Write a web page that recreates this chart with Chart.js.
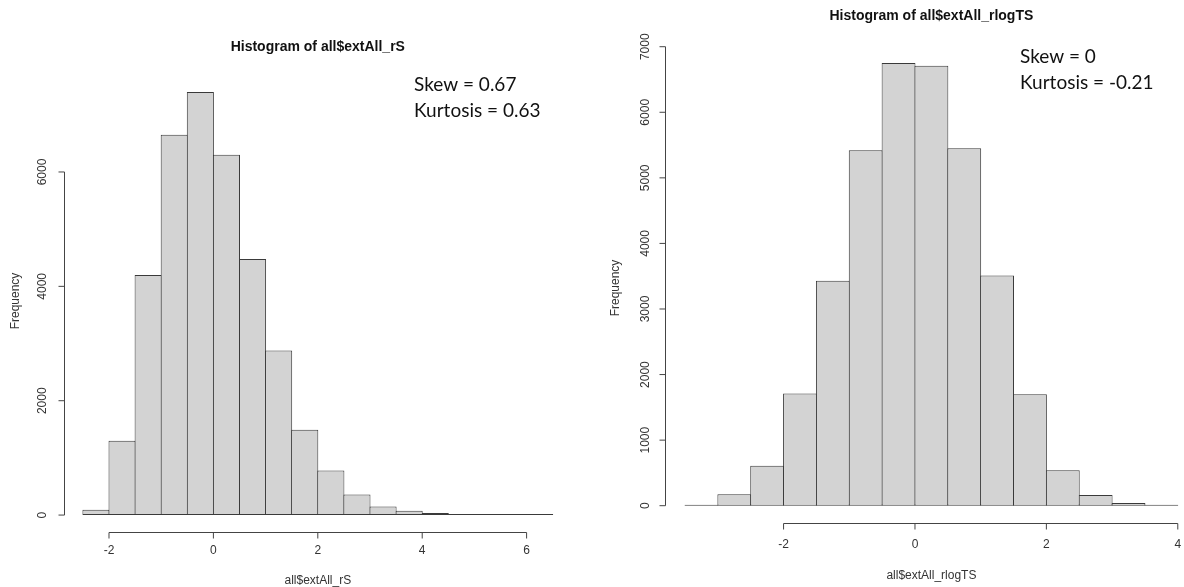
<!DOCTYPE html>
<html>
<head>
<meta charset="utf-8">
<script src="https://cdn.jsdelivr.net/npm/chart.js@4.4.1/dist/chart.umd.min.js"></script>
<style>
    html, body { margin: 0; padding: 0; background: #fff; }
    #wrap { position: relative; width: 1184px; height: 587px; overflow: hidden; }
    canvas { position: absolute; top: 0; }
    #leftChart { left: 0; }
    #rightChart { left: 600px; }
</style>
</head>
<body>
<div id="wrap">
    <canvas id="leftChart" width="600" height="587"></canvas>
    <canvas id="rightChart" width="620" height="587"></canvas>
</div>
<script>
// left histogram: all$extAll_rS (bin width 0.5, from -2.5 to 6.5)
const leftBins = [-2.25, -1.75, -1.25, -0.75, -0.25, 0.25, 0.75, 1.25, 1.75, 2.25, 2.75, 3.25, 3.75, 4.25, 4.75, 5.25, 5.75, 6.25];
const leftCounts = [95, 1300, 4200, 6650, 7400, 6300, 4480, 2880, 1490, 780, 360, 150, 75, 35, 15, 10, 2, 1];
const leftXTicks = [-2, 0, 2, 4, 6];
const leftYTicks = [0, 2000, 4000, 6000];

// right histogram: all$extAll_rlogTS (bin width 0.5, from -3.5 to 4)
const rightBins = [-3.25, -2.75, -2.25, -1.75, -1.25, -0.75, -0.25, 0.25, 0.75, 1.25, 1.75, 2.25, 2.75, 3.25, 3.75];
const rightCounts = [15, 175, 610, 1710, 3430, 5420, 6750, 6710, 5450, 3510, 1700, 540, 165, 40, 10];
const rightXTicks = [-2, 0, 2, 4];
const rightYTicks = [0, 1000, 2000, 3000, 4000, 5000, 6000, 7000];

const RFONT = 'Liberation Sans, Arial, sans-serif';

const drawText = (ctx, str, x, y, o) => {
    ctx.save();
    ctx.translate(x, y);
    if (o.rot) ctx.rotate(o.rot);
    ctx.font = o.font;
    ctx.fillStyle = o.color || '#333';
    ctx.textAlign = o.align || 'center';
    ctx.textBaseline = o.baseline || 'middle';
    ctx.fillText(str, 0, 0);
    ctx.restore();
};

// R style axes, titles and the skew / kurtosis note
const rAxes = {
    id: 'rAxes',
    afterDraw(chart, args, opts) {
        const ctx = chart.ctx;
        const area = chart.chartArea;
        const xs = chart.scales.x;
        const ys = chart.scales.y;
        ctx.save();
        ctx.strokeStyle = '#444';
        ctx.lineWidth = 1;

        const by = Math.round(area.bottom) + 0.5;
        const xp = opts.xTicks.map(v => xs.getPixelForValue(v));
        ctx.beginPath();
        ctx.moveTo(xp[0], by);
        ctx.lineTo(xp[xp.length - 1], by);
        xp.forEach(px => { ctx.moveTo(px, by); ctx.lineTo(px, by + 6); });
        ctx.stroke();
        opts.xTicks.forEach((v, i) => {
            drawText(ctx, String(v), xp[i], by + opts.xLabelGap, { font: '12px ' + RFONT });
        });

        const bx = Math.round(area.left) + 0.5;
        const yp = opts.yTicks.map(v => ys.getPixelForValue(v));
        ctx.beginPath();
        ctx.moveTo(bx, yp[0]);
        ctx.lineTo(bx, yp[yp.length - 1]);
        yp.forEach(py => { ctx.moveTo(bx, py); ctx.lineTo(bx - 6, py); });
        ctx.stroke();
        opts.yTicks.forEach((v, i) => {
            drawText(ctx, String(v), bx - opts.yLabelGap, yp[i], { font: '12px ' + RFONT, rot: -Math.PI / 2 });
        });

        const cx = (area.left + area.right) / 2;
        drawText(ctx, opts.title, cx, opts.titleY, { font: 'bold 14px ' + RFONT, color: '#111' });
        drawText(ctx, opts.xTitle, cx, opts.xTitleY, { font: '12px ' + RFONT });
        drawText(ctx, 'Frequency', opts.yTitleX, opts.yTitleY, { font: '12px ' + RFONT, rot: -Math.PI / 2 });

        opts.note.forEach((line, i) => {
            drawText(ctx, line, opts.noteX, opts.noteY + i * 25.5, { font: '19px Lato', color: '#111', align: 'left', baseline: 'alphabetic' });
        });
        ctx.restore();
    }
};

const makeHist = (id, bins, counts, cfg) => {
    const ctx = document.getElementById(id).getContext('2d');
    return new Chart(ctx, {
        type: 'bar',
        data: {
            datasets: [{
                data: bins.map((b, i) => ({ x: b, y: counts[i] })),
                backgroundColor: '#D3D3D3',
                borderColor: '#3a3a3a',
                borderWidth: 1,
                borderSkipped: false,
                inflateAmount: 0,
                minBarLength: 1,
                barPercentage: cfg.barPct,
                categoryPercentage: 1
            }]
        },
        options: {
            responsive: false,
            animation: false,
            layout: { padding: cfg.padding },
            scales: {
                x: { type: 'linear', display: false, offset: false, min: cfg.xMin, max: cfg.xMax },
                y: { display: false, min: cfg.yMin, max: cfg.yMax }
            },
            plugins: {
                legend: { display: false },
                tooltip: { enabled: false },
                rAxes: cfg.axes
            }
        },
        plugins: [rAxes]
    });
};

makeHist('leftChart', leftBins, leftCounts, {
    barPct: 1.038,
    padding: { left: 64.1, right: 28.5, top: 75, bottom: 55 },
    xMin: -2.86, xMax: 6.86, yMin: -296, yMax: 7696,
    axes: {
        xTicks: leftXTicks, yTicks: leftYTicks, xLabelGap: 18, yLabelGap: 22,
        title: 'Histogram of all$extAll_rS', titleY: 47,
        xTitle: 'all$extAll_rS', xTitleY: 581,
        yTitleX: 16, yTitleY: 301,
        note: ['Skew = 0.67', 'Kurtosis = 0.63'], noteX: 414, noteY: 91
    }
});

makeHist('rightChart', rightBins, rightCounts, {
    barPct: 1.03,
    padding: { left: 65.3, right: 22.5, top: 45.4, bottom: 63.6 },
    xMin: -3.8, xMax: 4.3, yMin: -270, yMax: 7020,
    axes: {
        xTicks: rightXTicks, yTicks: rightYTicks, xLabelGap: 21, yLabelGap: 20,
        title: 'Histogram of all$extAll_rlogTS', titleY: 16,
        xTitle: 'all$extAll_rlogTS', xTitleY: 576,
        yTitleX: 16, yTitleY: 288,
        note: ['Skew = 0', 'Kurtosis = -0.21'], noteX: 420, noteY: 63
    }
});
</script>
</body>
</html>
